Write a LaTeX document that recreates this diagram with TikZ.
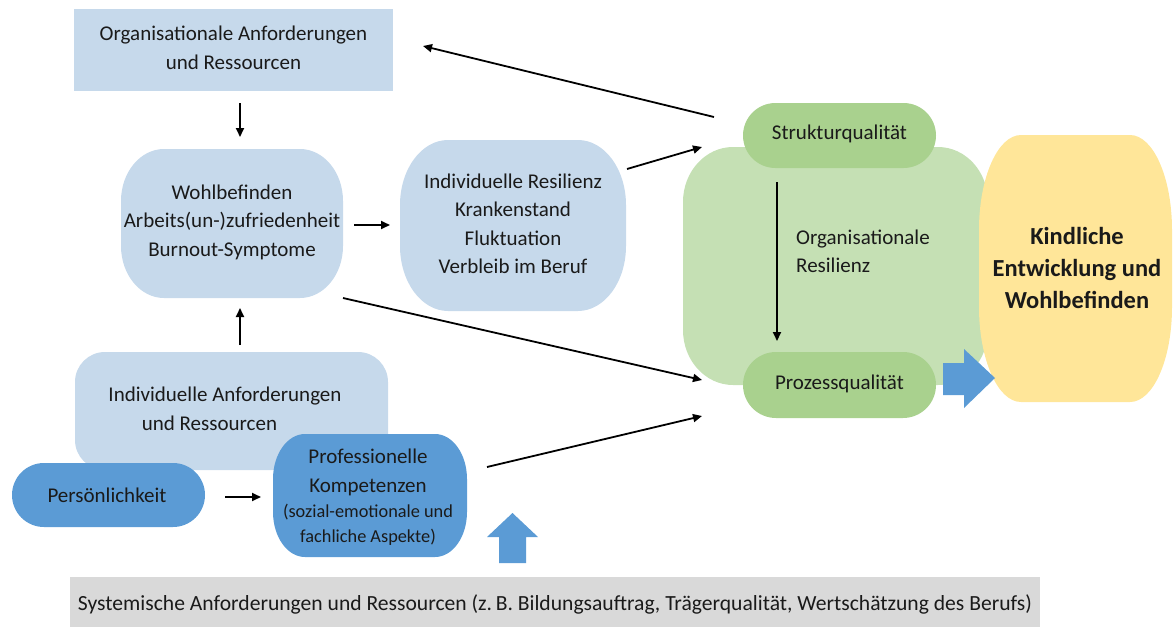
\documentclass[tikz,border=0pt]{standalone}
\usepackage{fontspec}
\setmainfont{Carlito}
\usetikzlibrary{arrows.meta}
\definecolor{lblue}{HTML}{C6D9EB}
\definecolor{mblue}{HTML}{5B9BD5}
\definecolor{lgreen}{HTML}{C5E0B4}
\definecolor{dgreen}{HTML}{A9D18E}
\definecolor{yel}{HTML}{FFE699}
\definecolor{gry}{HTML}{D9D9D9}
\definecolor{txt}{HTML}{1A1A1A}
\tikzset{
  box/.style={draw=none, inner sep=0pt, align=center, text=txt, font=\fontsize{21}{28.5}\selectfont},
  conn/.style={line width=1.8pt, -{Triangle[length=9pt,width=8pt]}},
  blockarrow/.style={fill=mblue, draw=none},
}
% filled shape with elliptical corners: fill, x1, y1, x2, y2, rx, ry
\newcommand{\eshape}[7]{%
 \fill[#1] ({#2+#6},#3) -- ({#4-#6},#3)
   arc[start angle=90, end angle=0, x radius=#6pt, y radius=#7pt]
   -- (#4,{#5-#7})
   arc[start angle=0, end angle=-90, x radius=#6pt, y radius=#7pt]
   -- ({#2+#6},#5)
   arc[start angle=-90, end angle=-180, x radius=#6pt, y radius=#7pt]
   -- (#2,{#3+#7})
   arc[start angle=180, end angle=90, x radius=#6pt, y radius=#7pt]
   -- cycle;}
\begin{document}
\begin{tikzpicture}[x=1pt,y=-1pt]
\useasboundingbox (0,0) rectangle (1173,627);
% shapes
\fill[lblue] (74,9) rectangle (393,91);
\eshape{lblue}{121}{149}{343}{298}{43}{52}
\eshape{lblue}{400}{140}{626}{311}{48}{65}
\eshape{lblue}{75}{352}{388}{470}{30}{30}
\eshape{mblue}{12}{463}{205}{527}{32}{32}
\eshape{mblue}{273}{434}{467}{557}{32}{45}
\fill[gry] (70,577) rectangle (1040,627);
\eshape{lgreen}{683}{147}{988}{385}{50}{55}
\eshape{dgreen}{743}{103}{936}{168}{32.5}{32.5}
\eshape{dgreen}{743}{352}{936}{418}{33}{33}
\eshape{yel}{979}{135}{1172}{402}{42}{95}
% nodes (text)
\node[box] (org) at (233.5,48) {Organisationale Anforderungen\\und Ressourcen};
\node[box] (wohl) at (232,222) {Wohlbefinden\\Arbeits(un-)zufriedenheit\\Burnout-Symptome};
\node[box] (resil) at (513,224) {Individuelle Resilienz\\Krankenstand\\Fluktuation\\Verbleib im Beruf};
\node[box, anchor=base] (indanfa) at (225,401) {Individuelle Anforderungen};
\node[box, anchor=base] (indanfb) at (209.5,430) {und Ressourcen};
\node[box] (pers) at (107,495) {Persönlichkeit};
\node[box] (prof) at (368,497) {Professionelle\\Kompetenzen\\[-3pt]{\fontsize{18.3}{25}\selectfont (sozial-emotionale und}\\[-4pt]{\fontsize{18.3}{25}\selectfont fachliche Aspekte)}};
\node[box, font=\fontsize{21.6}{28}\selectfont] (sys) at (555,604) {Systemische Anforderungen und Ressourcen (z.\,B. Bildungsauftrag, Trägerqualität, Wertschätzung des Berufs)};
\node[box] (strukt) at (839.5,134) {Strukturqualität};
\node[box] (proz) at (839.5,384) {Prozessqualität};
\node[box, align=left, anchor=west] (orgres) at (796,251.5) {Organisationale\\Resilienz};
\node[box, font=\fontsize{24.5}{32}\selectfont\bfseries] (kind) at (1077,268) {Kindliche\\Entwicklung und\\Wohlbefinden};
% block arrows
\fill[blockarrow] (943,363) -- (964,363) -- (964,349) -- (995,378) -- (964,408) -- (964,395) -- (943,395) -- cycle;
\fill[blockarrow] (499,563) -- (499,537) -- (487,537) -- (512.5,513) -- (538,537) -- (526,537) -- (526,563) -- cycle;
% connector coordinates
\coordinate (a1s) at (240,103); \coordinate (a1e) at (240,137);
\coordinate (a2s) at (354,225); \coordinate (a2e) at (390,225);
\coordinate (a3s) at (627,169); \coordinate (a3e) at (702,147);
\coordinate (a4s) at (714,117); \coordinate (a4e) at (423,46);
\coordinate (a5s) at (343,298); \coordinate (a5e) at (702,380);
\coordinate (a6s) at (240,345); \coordinate (a6e) at (240,308);
\coordinate (a7s) at (225,497); \coordinate (a7e) at (261,497);
\coordinate (a8s) at (487,467); \coordinate (a8e) at (702,416);
\coordinate (a9s) at (777,182); \coordinate (a9e) at (777,341);
\draw[conn] (a1s) -- (a1e);
\draw[conn] (a2s) -- (a2e);
\draw[conn] (a3s) -- (a3e);
\draw[conn] (a4s) -- (a4e);
\draw[conn] (a5s) -- (a5e);
\draw[conn] (a6s) -- (a6e);
\draw[conn] (a7s) -- (a7e);
\draw[conn] (a8s) -- (a8e);
\draw[conn] (a9s) -- (a9e);
\end{tikzpicture}
\end{document}
